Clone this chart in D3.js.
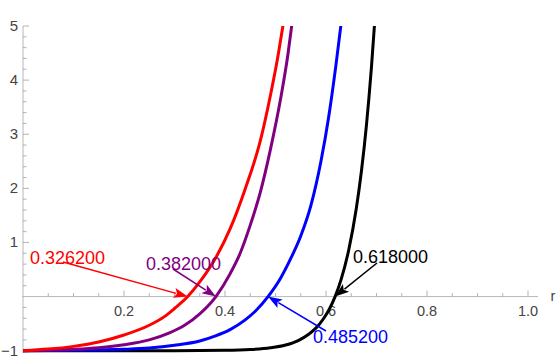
<!DOCTYPE html>
<html><head><meta charset="utf-8">
<script src="https://cdn.jsdelivr.net/npm/d3@7"></script>
<style>body{margin:0;background:#fff}svg{display:block}</style>
</head><body><svg id="c" width="558" height="362"></svg>
<script>
// ---- data ----
const seriesNames = ["red", "purple", "blue", "black"];
const rRed    = [0,0.05,0.10,0.15,0.20,0.25,0.28,0.30,0.3262,0.35,0.38,0.41,0.44,0.47,0.49,0.505,0.515,0.525];
const vRed    = [-1,-0.97,-0.92,-0.84,-0.71,-0.53,-0.37,-0.22,0,0.27,0.69,1.25,1.99,2.88,3.72,4.45,5.02,5.65];
const rPurple = [0,0.1,0.15,0.2,0.25,0.29,0.32,0.35,0.382,0.41,0.43,0.45,0.47,0.49,0.51,0.525,0.532,0.54];
const vPurple = [-1,-0.975,-0.945,-0.89,-0.80,-0.67,-0.53,-0.32,0,0.42,0.8,1.32,1.93,2.72,3.65,4.5,5.0,5.6];
const rBlue   = [0,0.1,0.2,0.25,0.3,0.35,0.38,0.41,0.44,0.46,0.4852,0.51,0.53,0.55,0.57,0.59,0.605,0.62,0.63,0.64];
const vBlue   = [-1,-0.994,-0.974,-0.95,-0.90,-0.82,-0.73,-0.61,-0.43,-0.27,0,0.34,0.7,1.12,1.68,2.5,3.3,4.3,5.05,5.9];
const rBlack  = [0,0.3,0.4,0.45,0.49,0.52,0.545,0.565,0.58,0.595,0.607,0.618,0.63,0.645,0.66,0.67,0.68,0.69,0.697,0.705];
const vBlack  = [-1,-0.999,-0.993,-0.979,-0.947,-0.895,-0.813,-0.70,-0.583,-0.41,-0.224,0,0.318,0.861,1.627,2.307,3.16,4.24,5.15,6.4];
const roots      = [0.3262, 0.382, 0.4852, 0.618];
const rootLabels = ["0.326200", "0.382000", "0.485200", "0.618000"];
const xTickValues = [0.2, 0.4, 0.6, 0.8, 1.0];
const xTickLabels = ["0.2", "0.4", "0.6", "0.8", "1.0"];
const yTickValues = [-1, 1, 2, 3, 4, 5];
const yTickLabels = ["\u22121", "1", "2", "3", "4", "5"];
const xAxisLabel = "r";

// ---- styles / layout ----
const colors = {red:"#ff0000", purple:"#800080", blue:"#0000ff", black:"#000000"};
// label placement (pixel offsets for callout text and leader start)
const callouts = [
  {tx:30,  ty:263.5, sx:63,  sy:262},
  {tx:146, ty:270,   sx:173, sy:269},
  {tx:313, ty:343,   sx:326, sy:331},
  {tx:353, ty:263,   sx:377, sy:263}
];

const svg = d3.select("#c");
const x = d3.scaleLinear().domain([0, 1]).range([23, 528]);
const y = d3.scaleLinear().domain([-1, 5]).range([350.7, 26]);

const axisColor = "#b8b8b8", tickColor = "#a0a0a0", labelColor = "#444";
const font = "'Liberation Sans', Arial, sans-serif";

// axes
const ax = svg.append("g");
ax.append("line").attr("x1", x(0)-1).attr("x2", 538).attr("y1", y(0)).attr("y2", y(0))
  .attr("stroke", axisColor).attr("stroke-width", 1);
ax.append("line").attr("x1", x(0)).attr("x2", x(0)).attr("y1", y(5)).attr("y2", y(-1)+2)
  .attr("stroke", axisColor).attr("stroke-width", 1);

// x ticks (upward)
const xMinor = d3.range(1, 21).map(i => i*0.05).filter(v => !xTickValues.some(t => Math.abs(t-v) < 1e-6));
ax.selectAll(".xmin").data(xMinor).enter().append("line")
  .attr("x1", d => x(d)).attr("x2", d => x(d)).attr("y1", y(0)).attr("y2", y(0)-3.5)
  .attr("stroke", tickColor).attr("stroke-width", 0.8);
ax.selectAll(".xmaj").data(xTickValues).enter().append("line")
  .attr("x1", d => x(d)).attr("x2", d => x(d)).attr("y1", y(0)).attr("y2", y(0)-6)
  .attr("stroke", tickColor).attr("stroke-width", 0.8);
ax.selectAll(".xlab").data(xTickValues).enter().append("text")
  .attr("x", d => x(d)).attr("y", y(0)+19.5).attr("text-anchor", "middle")
  .attr("font-family", font).attr("font-size", 14.5).attr("fill", labelColor)
  .text((d,i) => xTickLabels[i]);
ax.append("text").attr("x", 553).attr("y", y(0)+4.5).attr("text-anchor", "middle")
  .attr("font-family", font).attr("font-size", 14.5).attr("fill", labelColor).text(xAxisLabel);

// y ticks (rightward)
const yMinor = d3.range(-5, 26).map(i => i*0.2).filter(v => !yTickValues.some(t => Math.abs(t-v) < 1e-6) && Math.abs(v) > 1e-6);
ax.selectAll(".ymin").data(yMinor).enter().append("line")
  .attr("x1", x(0)).attr("x2", x(0)+3.5).attr("y1", d => y(d)).attr("y2", d => y(d))
  .attr("stroke", tickColor).attr("stroke-width", 0.8);
ax.selectAll(".ymaj").data(yTickValues).enter().append("line")
  .attr("x1", x(0)).attr("x2", x(0)+6).attr("y1", d => y(d)).attr("y2", d => y(d))
  .attr("stroke", tickColor).attr("stroke-width", 0.8);
ax.selectAll(".ylab").data(yTickValues).enter().append("text")
  .attr("x", x(0)-5).attr("y", d => y(d)+5).attr("text-anchor", "end")
  .attr("font-family", font).attr("font-size", 15).attr("fill", labelColor)
  .text((d,i) => yTickLabels[i]);

// clip
svg.append("clipPath").attr("id", "clip").append("rect")
  .attr("x", 0).attr("y", y(5)).attr("width", 558).attr("height", 362 - y(5));

const seriesData = {
  red: d3.zip(rRed, vRed), purple: d3.zip(rPurple, vPurple),
  blue: d3.zip(rBlue, vBlue), black: d3.zip(rBlack, vBlack)
};
const line = d3.line().x(d => x(d[0])).y(d => y(d[1])).curve(d3.curveMonotoneX);
const g = svg.append("g").attr("clip-path", "url(#clip)");
["black", "blue", "purple", "red"].forEach(name => {
  g.append("path").attr("d", line(seriesData[name])).attr("fill", "none")
    .attr("stroke", colors[name]).attr("stroke-width", 3).attr("stroke-linejoin", "round");
});

// callouts
seriesNames.forEach((name, i) => {
  const c = callouts[i];
  const tipX = x(roots[i]), tipY = y(0);
  const dx = tipX - c.sx, dy = tipY - c.sy, L = Math.hypot(dx, dy);
  const ux = dx / L, uy = dy / L;
  const headL = 14, headW = 5;
  const bx = tipX - ux*headL, by = tipY - uy*headL;
  svg.append("line").attr("x1", c.sx).attr("y1", c.sy).attr("x2", bx + ux*2).attr("y2", by + uy*2)
    .attr("stroke", colors[name]).attr("stroke-width", 1.5);
  svg.append("path").attr("d", `M${tipX},${tipY}L${bx - uy*headW},${by + ux*headW}L${bx + ux*3},${by + uy*3}L${bx + uy*headW},${by - ux*headW}Z`)
    .attr("fill", colors[name]);
  svg.append("text").attr("x", c.tx).attr("y", c.ty)
    .attr("font-family", font).attr("font-size", 18).attr("fill", colors[name])
    .text(rootLabels[i]);
});
</script></body></html>
